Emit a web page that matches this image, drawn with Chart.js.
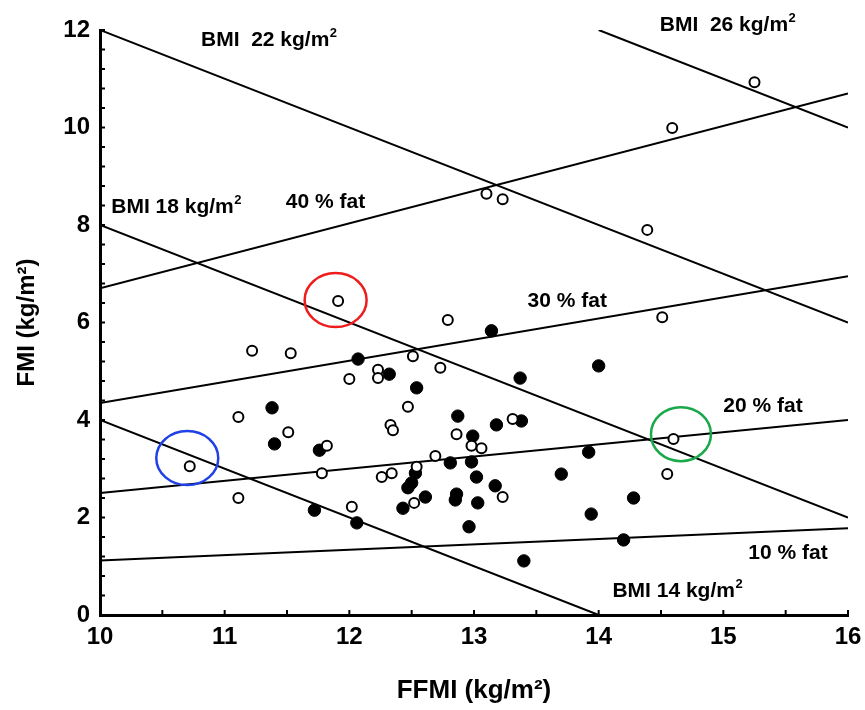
<!DOCTYPE html>
<html>
<head>
<meta charset="utf-8">
<script src="https://cdn.jsdelivr.net/npm/chart.js@4.4.0/dist/chart.umd.min.js"></script>
<style>
  html, body { margin: 0; padding: 0; background: #ffffff; }
  #wrap { width: 865px; height: 710px; }
</style>
</head>
<body>
<div id="wrap"><canvas id="c" width="865" height="710"></canvas></div>
<script>
// ---- Data ----
// open circles
const ffmiOpen = [15.25, 14.59, 13.10, 13.23, 14.39, 11.91, 12.79, 14.51, 11.22, 11.53, 12.51, 12.73,
  12.00, 12.23, 12.23, 12.47, 11.11, 11.51, 12.33, 12.35, 11.82, 13.31, 12.86, 12.98, 13.06, 12.69,
  12.54, 11.78, 12.26, 12.34, 11.11, 12.02, 12.52, 13.23, 14.60, 14.55, 10.72];
const fmiOpen = [10.93, 9.99, 8.64, 8.53, 7.90, 6.44, 6.05, 6.11, 5.42, 5.37, 5.31, 5.07,
  4.84, 5.03, 4.86, 4.27, 4.06, 3.75, 3.90, 3.79, 3.47, 4.02, 3.71, 3.47, 3.42, 3.26,
  3.04, 2.91, 2.83, 2.91, 2.40, 2.22, 2.30, 2.42, 3.61, 2.89, 3.05];
// filled circles
const ffmiFilled = [13.14, 12.07, 12.32, 12.54, 13.37, 14.00, 11.38, 11.40, 11.76, 12.87, 13.18, 13.38,
  12.99, 13.92, 12.81, 12.98, 12.53, 13.02, 13.70, 12.50, 12.47, 12.61, 12.86, 12.85, 13.17, 13.03,
  12.43, 14.28, 13.94, 12.96, 14.20, 13.40, 11.72, 12.06];
const fmiFilled = [5.83, 5.25, 4.94, 4.66, 4.86, 5.11, 4.25, 3.51, 3.38, 4.08, 3.90, 3.98,
  3.67, 3.34, 3.12, 3.14, 2.91, 2.83, 2.89, 2.71, 2.61, 2.42, 2.48, 2.36, 2.65, 2.30,
  2.19, 2.40, 2.07, 1.81, 1.54, 1.11, 2.15, 1.89];

// reference lines (end points): BMI iso-lines and % fat lines
const refLineNames = ['BMI 14', 'BMI 18', 'BMI 22', 'BMI 26', '10 % fat', '20 % fat', '30 % fat', '40 % fat'];
const refLineX0 = [10, 10, 10, 14, 10, 10, 10, 10];
const refLineY0 = [4, 8, 12, 12, 1.12, 2.5, 4.35, 6.7];
const refLineX1 = [14, 16, 16, 16, 16, 16, 16, 16];
const refLineY1 = [0, 2, 6, 10, 1.78, 4.0, 6.95, 10.7];

// highlighted subjects (ellipses)
const highlightX = [11.89, 10.70, 14.66];
const highlightY = [6.46, 3.22, 3.71];

// text labels on the plot
const noteText = ['BMI  22 kg/m', 'BMI  26 kg/m', 'BMI 18 kg/m', '40 % fat', '30 % fat', '20 % fat', '10 % fat', 'BMI 14 kg/m'];
const noteSup = ['2', '2', '2', '', '', '', '', '2'];
const noteX = [10.81, 14.49, 10.09, 11.49, 13.43, 15.00, 15.20, 14.11];
const noteY = [11.67, 11.98, 8.25, 8.35, 6.31, 4.16, 1.15, 0.37];

// axis ticks
const xTickMin = 10, xTickMax = 16, xTickStep = 0.5;
const yTickMin = 0, yTickMax = 12, yTickStep = 0.4;

// ---- styles ----
const FONT = "'Liberation Sans', Arial, Helvetica, sans-serif";
const ellipseStyle = [
  { color: '#ee1c1c', rx: 31, ry: 27 },
  { color: '#2040e8', rx: 31, ry: 27 },
  { color: '#19a84a', rx: 30, ry: 27 }
];

const toPts = (xs, ys) => xs.map((x, i) => ({ x: x, y: ys[i] }));

const datasets = [
  {
    label: 'open', data: toPts(ffmiOpen, fmiOpen),
    pointRadius: 5, pointBackgroundColor: '#ffffff', pointBorderColor: '#000000', pointBorderWidth: 2,
    showLine: false
  },
  {
    label: 'filled', data: toPts(ffmiFilled, fmiFilled),
    pointRadius: 6.2, pointBackgroundColor: '#000000', pointBorderColor: '#000000', pointBorderWidth: 1,
    showLine: false
  }
];
refLineNames.forEach((n, i) => {
  datasets.push({
    label: n,
    data: [{ x: refLineX0[i], y: refLineY0[i] }, { x: refLineX1[i], y: refLineY1[i] }],
    showLine: true, borderColor: '#000000', borderWidth: 2, pointRadius: 0, fill: false, tension: 0
  });
});

const decorPlugin = {
  id: 'decor',
  afterDraw(chart) {
    const ctx = chart.ctx;
    const xs = chart.scales.x, ys = chart.scales.y;
    const area = chart.chartArea;
    ctx.save();
    // inward tick marks
    ctx.strokeStyle = '#000';
    ctx.lineWidth = 2;
    ys.ticks.forEach(t => {
      const py = ys.getPixelForValue(t.value);
      ctx.beginPath(); ctx.moveTo(area.left, py); ctx.lineTo(area.left + 5, py); ctx.stroke();
    });
    xs.ticks.forEach(t => {
      const px = xs.getPixelForValue(t.value);
      ctx.beginPath(); ctx.moveTo(px, area.bottom); ctx.lineTo(px, area.bottom - 5); ctx.stroke();
    });
    // ellipses
    highlightX.forEach((hx, i) => {
      const st = ellipseStyle[i];
      ctx.beginPath();
      ctx.ellipse(xs.getPixelForValue(hx), ys.getPixelForValue(highlightY[i]), st.rx, st.ry, 0, 0, Math.PI * 2);
      ctx.strokeStyle = st.color; ctx.lineWidth = 2.5; ctx.stroke();
    });
    // text notes
    ctx.fillStyle = '#000';
    ctx.textAlign = 'left';
    ctx.textBaseline = 'alphabetic';
    noteText.forEach((tx, i) => {
      const px = xs.getPixelForValue(noteX[i]);
      const py = ys.getPixelForValue(noteY[i]);
      ctx.font = 'bold 21px ' + FONT;
      ctx.fillText(tx, px, py);
      if (noteSup[i]) {
        const w = ctx.measureText(tx).width;
        ctx.font = 'bold 13px ' + FONT;
        ctx.fillText(noteSup[i], px + w + 0.5, py - 9);
      }
    });
    ctx.restore();
  }
};

new Chart(document.getElementById('c'), {
  type: 'scatter',
  data: { datasets: datasets },
  plugins: [decorPlugin],
  options: {
    responsive: false,
    animation: false,
    events: [],
    layout: { padding: { top: 30, right: 17, left: 0, bottom: 0 } },
    plugins: { legend: { display: false }, tooltip: { enabled: false } },
    scales: {
      x: {
        type: 'linear', min: xTickMin, max: xTickMax,
        grid: { display: false, drawTicks: false },
        border: { display: true, color: '#000', width: 3 },
        ticks: {
          stepSize: xTickStep, autoSkip: false, maxRotation: 0, padding: 8, color: '#000',
          font: { family: FONT, size: 24, weight: 'bold' },
          callback: v => (Math.abs(v - Math.round(v)) < 1e-6 ? String(Math.round(v)) : '')
        },
        title: {
          display: true, text: 'FFMI (kg/m²)', color: '#000',
          font: { family: FONT, size: 26, weight: 'bold' }, padding: { top: 0, bottom: 4 }
        },
        afterFit: s => { s.height = 95; s.paddingRight = 0; s.paddingLeft = 0; }
      },
      y: {
        type: 'linear', min: yTickMin, max: yTickMax,
        grid: { display: false, drawTicks: false },
        border: { display: true, color: '#000', width: 3 },
        ticks: {
          stepSize: yTickStep, autoSkip: false, padding: 10, color: '#000',
          font: { family: FONT, size: 24, weight: 'bold' },
          callback: v => {
            const r = Math.round(v);
            return (Math.abs(v - r) < 1e-6 && r % 2 === 0) ? String(r) : '';
          }
        },
        title: {
          display: true, text: 'FMI (kg/m²)', color: '#000',
          font: { family: FONT, size: 24, weight: 'bold' }, padding: { top: 13, bottom: 0 }
        },
        afterFit: s => { s.width = 100; s.paddingTop = 0; s.paddingBottom = 0; }
      }
    }
  }
});
</script>
</body>
</html>
